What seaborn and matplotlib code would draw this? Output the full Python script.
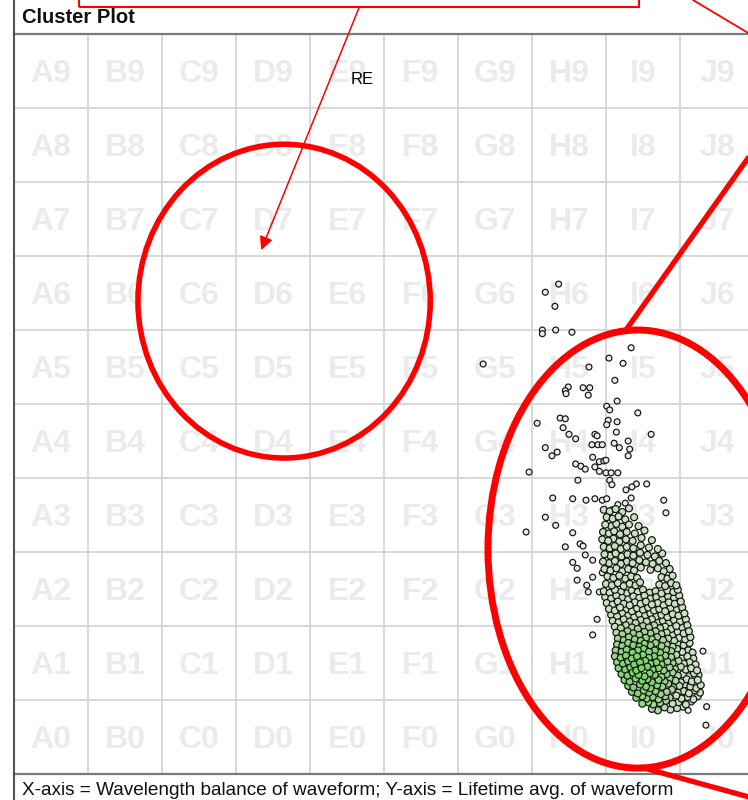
import numpy as np
import pandas as pd
import matplotlib
matplotlib.use("Agg")
import matplotlib.pyplot as plt
from matplotlib.patches import Ellipse, Rectangle
from matplotlib.lines import Line2D
import seaborn as sns

# Grid zones: columns A-J along x, rows 0-9 along y
columns = list("ABCDEFGHIJ")
rows = list(range(10))

title = "Cluster Plot"
caption = "X-axis = Wavelength balance of waveform; Y-axis = Lifetime avg. of waveform"
note = "RE"

# Scattered waveforms above/left of the main cluster (grid units)
outlier_x = [7.36, 7.18, 7.31, 7.14, 7.14, 7.32, 7.54, 6.34, 8.34, 8.04, 8.23, 7.77,
             8.12, 7.49, 7.45, 7.46, 7.69, 7.78, 7.76, 8.15, 8.01, 8.05, 8.43, 7.07,
             7.38, 7.45, 8.03, 8.01, 8.15, 7.42, 8.14, 8.61, 7.50, 7.85, 7.88, 7.59,
             8.30, 7.81, 7.89, 7.95, 8.11, 8.18, 8.32, 7.18, 7.34, 7.27, 8.30, 7.82,
             7.91, 7.97, 8.00, 7.59, 7.66, 7.72, 6.96, 7.62, 7.85, 7.91, 8.00, 8.07,
             8.16, 8.05, 8.08, 8.41, 8.35, 8.27, 8.55, 7.28, 7.55, 7.73, 7.85, 7.95,
             8.01, 8.78, 8.81, 7.18, 8.08, 8.16, 8.26, 8.34, 7.32, 6.92, 7.55, 7.45,
             7.65, 7.69, 7.55, 7.61, 7.72, 7.82, 7.61, 7.74, 7.76, 7.91, 7.95, 7.82,
             7.88, 8.08, 7.82, 9.36, 9.35, 9.31, 8.18, 9.11]
outlier_y = [6.62, 6.51, 6.32, 6.00, 5.95, 6.00, 5.97, 5.54, 5.76, 5.62, 5.55, 5.50,
             5.32, 5.23, 5.18, 5.14, 5.22, 5.22, 5.12, 5.04, 4.97, 4.92, 4.88, 4.74,
             4.81, 4.80, 4.78, 4.72, 4.76, 4.68, 4.62, 4.59, 4.59, 4.59, 4.57, 4.53,
             4.50, 4.45, 4.45, 4.45, 4.47, 4.41, 4.39, 4.41, 4.35, 4.30, 4.30, 4.28,
             4.22, 4.23, 4.24, 4.19, 4.16, 4.12, 4.08, 3.97, 4.15, 4.09, 4.07, 4.07,
             4.07, 3.97, 3.91, 3.92, 3.88, 3.84, 3.92, 3.73, 3.72, 3.70, 3.72, 3.70,
             3.72, 3.70, 3.53, 3.47, 3.57, 3.64, 3.66, 3.73, 3.36, 3.27, 3.26, 3.07,
             3.11, 3.08, 2.86, 2.78, 2.96, 2.89, 2.62, 2.55, 2.46, 2.46, 2.72, 2.66,
             2.09, 2.35, 1.88, 0.91, 0.66, 1.66, 1.82, 0.86]

# Main cluster body (grid units), bottom tip upwards
cluster_pts = [
    (8.62, 0.88), (8.70, 0.86), (8.79, 0.90), (8.87, 0.87), (8.96, 0.89), (9.04, 0.91),
    (8.49, 0.95), (8.57, 0.97), (8.64, 0.94), (8.73, 0.96), (8.81, 0.99), (8.90, 0.95),
    (8.98, 0.97), (9.08, 0.94), (9.15, 0.98),
    (8.41, 1.03), (8.49, 1.05), (8.55, 1.02), (8.63, 1.04), (8.71, 1.01), (8.80, 1.05),
    (8.86, 1.03), (8.95, 1.06), (9.02, 1.02), (9.10, 1.04), (9.18, 1.01), (9.24, 1.05),
    (8.35, 1.11), (8.43, 1.09), (8.51, 1.13), (8.58, 1.10), (8.67, 1.12), (8.74, 1.08),
    (8.82, 1.11), (8.89, 1.14), (8.97, 1.10), (9.05, 1.12), (9.12, 1.09), (9.20, 1.13),
    (9.27, 1.10),
    (8.30, 1.19), (8.37, 1.17), (8.46, 1.21), (8.54, 1.18), (8.60, 1.16), (8.69, 1.20),
    (8.76, 1.18), (8.84, 1.22), (8.91, 1.17), (8.99, 1.19), (9.06, 1.21), (9.14, 1.18),
    (9.22, 1.16), (9.28, 1.20),
    (8.25, 1.27), (8.32, 1.25), (8.40, 1.29), (8.49, 1.26), (8.56, 1.28), (8.62, 1.24),
    (8.71, 1.27), (8.79, 1.25), (8.86, 1.29), (8.94, 1.26), (9.01, 1.24), (9.09, 1.28),
    (9.16, 1.25), (9.24, 1.27),
    (8.21, 1.35), (8.29, 1.33), (8.36, 1.37), (8.44, 1.34), (8.52, 1.32), (8.59, 1.36),
    (8.66, 1.34), (8.75, 1.31), (8.82, 1.35), (8.90, 1.37), (8.97, 1.33), (9.04, 1.35),
    (9.12, 1.32), (9.19, 1.36), (9.25, 1.34),
    (8.17, 1.43), (8.26, 1.41), (8.33, 1.44), (8.41, 1.40), (8.48, 1.43), (8.56, 1.45),
    (8.63, 1.41), (8.71, 1.43), (8.78, 1.40), (8.86, 1.44), (8.93, 1.42), (9.01, 1.45),
    (9.08, 1.41), (9.15, 1.43), (9.23, 1.40),
    (8.15, 1.51), (8.23, 1.49), (8.30, 1.52), (8.38, 1.48), (8.46, 1.51), (8.53, 1.53),
    (8.60, 1.49), (8.68, 1.51), (8.75, 1.48), (8.83, 1.52), (8.90, 1.50), (8.98, 1.53),
    (9.05, 1.49), (9.13, 1.51), (9.21, 1.48),
    (8.12, 1.59), (8.20, 1.57), (8.27, 1.60), (8.35, 1.56), (8.42, 1.59), (8.50, 1.61),
    (8.58, 1.57), (8.65, 1.59), (8.73, 1.56), (8.80, 1.60), (8.88, 1.58), (8.95, 1.61),
    (9.03, 1.57), (9.10, 1.59), (9.18, 1.56),
    (8.13, 1.67), (8.21, 1.65), (8.28, 1.68), (8.36, 1.64), (8.43, 1.67), (8.51, 1.69),
    (8.58, 1.65), (8.66, 1.67), (8.73, 1.64), (8.81, 1.68), (8.88, 1.66), (8.96, 1.69),
    (9.03, 1.65), (9.11, 1.67), (9.17, 1.64),
    (8.15, 1.75), (8.22, 1.73), (8.30, 1.77), (8.37, 1.74), (8.45, 1.72), (8.52, 1.76),
    (8.60, 1.74), (8.67, 1.77), (8.75, 1.73), (8.82, 1.75), (8.90, 1.72), (8.97, 1.76),
    (9.05, 1.74), (9.13, 1.77),
    (8.16, 1.83), (8.24, 1.81), (8.31, 1.85), (8.39, 1.82), (8.47, 1.80), (8.54, 1.84),
    (8.62, 1.82), (8.69, 1.85), (8.77, 1.81), (8.84, 1.83), (8.92, 1.80), (8.99, 1.84),
    (9.07, 1.82), (9.14, 1.85),
    (8.14, 1.91), (8.22, 1.89), (8.29, 1.93), (8.37, 1.90), (8.45, 1.88), (8.52, 1.92),
    (8.60, 1.90), (8.67, 1.93), (8.75, 1.89), (8.82, 1.91), (8.90, 1.88), (8.97, 1.92),
    (9.05, 1.90), (9.12, 1.93),
    (8.12, 1.99), (8.20, 1.97), (8.27, 2.01), (8.35, 1.98), (8.43, 1.96), (8.50, 2.00),
    (8.58, 1.98), (8.65, 2.01), (8.73, 1.97), (8.80, 1.99), (8.88, 1.96), (8.95, 2.00),
    (9.03, 1.98), (9.10, 2.01),
    (8.09, 2.07), (8.17, 2.05), (8.24, 2.09), (8.32, 2.06), (8.40, 2.04), (8.47, 2.08),
    (8.55, 2.06), (8.62, 2.09), (8.70, 2.05), (8.77, 2.07), (8.85, 2.04), (8.92, 2.08),
    (9.00, 2.06), (9.08, 2.09),
    (8.07, 2.15), (8.15, 2.13), (8.22, 2.17), (8.30, 2.14), (8.38, 2.12), (8.45, 2.16),
    (8.53, 2.14), (8.60, 2.17), (8.68, 2.13), (8.75, 2.15), (8.83, 2.12), (8.90, 2.16),
    (8.98, 2.14), (9.06, 2.17),
    (8.04, 2.23), (8.12, 2.21), (8.19, 2.25), (8.27, 2.22), (8.35, 2.20), (8.42, 2.24),
    (8.50, 2.22), (8.57, 2.25), (8.65, 2.21), (8.72, 2.23), (8.80, 2.20), (8.87, 2.24),
    (8.95, 2.22), (9.03, 2.25),
    (8.01, 2.31), (8.09, 2.29), (8.16, 2.33), (8.24, 2.30), (8.32, 2.28), (8.39, 2.32),
    (8.47, 2.30), (8.54, 2.33), (8.62, 2.29), (8.70, 2.31), (8.78, 2.28), (8.85, 2.32),
    (8.93, 2.30), (9.01, 2.33),
    (7.99, 2.39), (8.07, 2.37), (8.14, 2.41), (8.22, 2.38), (8.30, 2.36), (8.37, 2.40),
    (8.45, 2.38), (8.52, 2.41), (8.60, 2.37), (8.68, 2.39), (8.76, 2.36), (8.84, 2.40),
    (8.92, 2.38), (8.99, 2.41),
    (7.97, 2.47), (8.05, 2.45), (8.12, 2.49), (8.20, 2.46), (8.28, 2.44), (8.35, 2.48),
    (8.43, 2.46), (8.50, 2.49), (8.59, 2.45), (8.67, 2.47), (8.75, 2.44), (8.83, 2.48),
    (8.91, 2.46), (8.97, 2.49),
    (8.00, 2.57), (8.08, 2.55), (8.16, 2.58), (8.24, 2.54), (8.32, 2.57), (8.40, 2.55),
    (8.46, 2.59), (8.72, 2.56), (8.80, 2.54), (8.88, 2.58), (8.95, 2.55),
    (8.02, 2.67), (8.10, 2.65), (8.18, 2.68), (8.26, 2.64), (8.34, 2.67), (8.42, 2.65),
    (8.75, 2.66), (8.83, 2.64), (8.90, 2.68),
    (7.98, 2.77), (8.06, 2.75), (8.14, 2.78), (8.22, 2.74), (8.30, 2.77), (8.38, 2.75),
    (8.47, 2.79), (8.60, 2.76), (8.70, 2.78), (8.78, 2.74), (8.86, 2.77),
    (7.96, 2.87), (8.04, 2.85), (8.12, 2.88), (8.20, 2.84), (8.28, 2.87), (8.36, 2.85),
    (8.45, 2.89), (8.54, 2.86), (8.63, 2.84), (8.72, 2.88), (8.81, 2.85),
    (7.98, 2.97), (8.06, 2.95), (8.13, 2.98), (8.21, 2.94), (8.29, 2.97), (8.37, 2.95),
    (8.46, 2.99), (8.56, 2.96), (8.66, 2.94), (8.76, 2.98),
    (7.97, 3.07), (8.05, 3.05), (8.12, 3.08), (8.20, 3.04), (8.28, 3.07), (8.37, 3.05),
    (8.47, 3.09), (8.58, 3.06), (8.70, 3.04),
    (7.95, 3.17), (8.03, 3.15), (8.10, 3.18), (8.18, 3.14), (8.27, 3.17), (8.36, 3.15),
    (8.48, 3.19), (8.62, 3.16),
    (7.96, 3.27), (8.04, 3.25), (8.11, 3.28), (8.19, 3.24), (8.28, 3.27), (8.39, 3.25),
    (8.52, 3.29),
    (7.99, 3.37), (8.07, 3.35), (8.14, 3.38), (8.22, 3.34), (8.31, 3.37), (8.44, 3.35),
    (8.01, 3.47), (8.09, 3.45), (8.17, 3.48), (8.26, 3.44), (8.38, 3.47),
    (7.97, 3.57), (8.05, 3.55), (8.13, 3.58), (8.22, 3.54), (8.31, 3.59),
]

cx, cy = zip(*cluster_pts)
n_out = len(outlier_x)
df = pd.DataFrame({
    "balance": list(outlier_x) + list(cx),
    "lifetime": list(outlier_y) + list(cy),
    "group": ["outlier"] * n_out + ["cluster"] * len(cx),
})
# Fill shade: brightest green in the dense lower-left core of the cluster
core = 1 - ((df["balance"] - 8.45) / 0.70) ** 2 - ((df["lifetime"] - 1.40) / 0.85) ** 2
df["shade"] = np.where(df["group"] == "cluster", np.clip(core, 0.3, 1), 0.08)
df = df.sort_values("shade").reset_index(drop=True)

sns.set_style("white")
plt.rcParams["font.family"] = ["Liberation Sans", "DejaVu Sans"]

W, H = 748, 800
fig = plt.figure(figsize=(W / 100, H / 100), dpi=100)
fig.patch.set_facecolor("white")
ax = fig.add_axes([14 / W, 26 / H, 740 / W, 740 / H])
ax.set_xlim(0, 10)
ax.set_ylim(0, 10)

# zone grid and zone names
for i in range(1, 10):
    ax.axvline(i, color="#d2d2d2", lw=1.2, zorder=1)
    ax.axhline(i, color="#d2d2d2", lw=1.2, zorder=1)
for ci, col in enumerate(columns):
    for r in rows:
        ax.text(ci + 0.5, r + 0.345, f"{col}{r}", ha="center", va="baseline",
                fontsize=23, fontweight="bold", color="#ebebeb", zorder=0.5)

cmap = sns.blend_palette(["#f0f2ef", "#aed3a1", "#78d563"], as_cmap=True)
sns.scatterplot(data=df, x="balance", y="lifetime", hue="shade", palette=cmap,
                hue_norm=(0, 1), size="group", sizes={"outlier": 18, "cluster": 25},
                edgecolor="#111111", linewidth=0.85,
                legend=False, ax=ax, zorder=3)

ax.set_xticks([])
ax.set_yticks([])
ax.set_xlabel("")
ax.set_ylabel("")
for side in ("left", "right"):
    ax.spines[side].set_visible(False)
for side in ("top", "bottom"):
    ax.spines[side].set_color("#7a7a7a")
    ax.spines[side].set_linewidth(1.6)

# left ruler with tick marks
rax = fig.add_axes([14 / W, 0, 1e-4, 1])
rax.set_ylim(-26 / 74, 774 / 74)
rax.set_xticks([])
rax.patch.set_visible(False)
for side in ("top", "right", "bottom"):
    rax.spines[side].set_visible(False)
rax.spines["left"].set_color("#555555")
rax.spines["left"].set_linewidth(1.5)
rax.set_yticks(np.arange(0.15, 10, 1.25))
rax.set_yticks(np.arange(10, -0.36, -0.125), minor=True)
rax.tick_params(axis="y", which="major", length=6.5, width=1, color="#555555",
                direction="out", labelleft=False)
rax.tick_params(axis="y", which="minor", length=3.2, width=1, color="#555555",
                direction="out", labelleft=False)

# red markup
ax.add_patch(Ellipse((3.65, 6.39), 3.95, 4.24, fill=False, ec="#ff0000", lw=4, zorder=6))
ax.add_patch(Ellipse((8.43, 3.04), 4.05, 5.92, fill=False, ec="#ff0000", lw=5, zorder=6))
ax.plot([8.27, 10.62], [6.0, 9.31], color="#ff0000", lw=3.8, zorder=6,
        clip_on=False, solid_capstyle="butt")
ax.plot([8.46, 10.62], [0.095, -0.50], color="#ff0000", lw=3.8, zorder=6,
        clip_on=False, solid_capstyle="butt")
ax.annotate("", xy=(3.34, 7.08), xytext=(4.66, 10.35), annotation_clip=False,
            arrowprops=dict(arrowstyle="-|>", color="#ff0000", lw=1.1,
                            mutation_scale=20, shrinkA=0, shrinkB=0), zorder=7)
ax.text(4.70, 9.38, note, ha="center", va="center", fontsize=12, color="black", zorder=7)

fig.patches.append(Rectangle((79 / W, 1 - 7 / H), 560 / W, 0.05, transform=fig.transFigure,
                             fill=False, ec="#ff0000", lw=1.5))
fig.lines.append(Line2D([693 / W, 800 / W], [1.0, 1 - 64 / H], transform=fig.transFigure,
                        color="#ff0000", lw=1.3))

fig.text(22 / W, 1 - 23 / H, title, fontsize=14.5, fontweight="bold", va="baseline",
         color="#111111")
fig.text(22 / W, 1 - 795 / H, caption, fontsize=13.7, va="baseline", color="#111111")

fig.savefig("out.png", dpi=100)
